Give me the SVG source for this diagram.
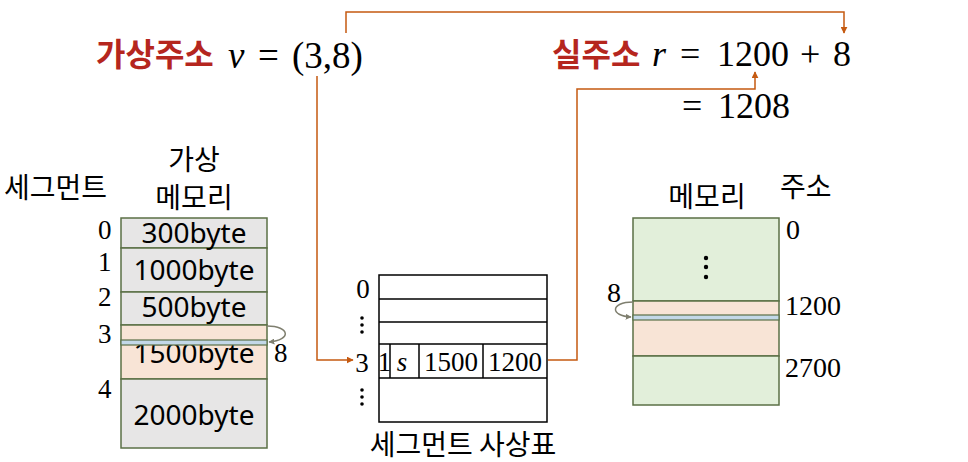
<svg xmlns="http://www.w3.org/2000/svg" width="968" height="462" viewBox="0 0 968 462">
<style>
.kr{font-family:"Noto Sans CJK KR","Noto Sans",sans-serif;fill:#000}
.red{fill:#B5261E;font-weight:bold}
.math{font-family:"Liberation Serif","DejaVu Serif",serif;fill:#000}
.tm{font-family:"Liberation Serif",serif;fill:#000}
.sans{font-family:"Noto Sans","Liberation Sans",sans-serif;fill:#000}
.cell{stroke:#5B7046;stroke-width:1.5}
.gray{fill:#E7E6E6}
.pink{fill:#F8E4D6}
.green{fill:#E2EFDA}
.blue{fill:#C3D8E8;stroke:#5B7046;stroke-width:1.2}
.tbl{fill:#fff;stroke:#000;stroke-width:1.5}
.conn{fill:none;stroke:#C55A11;stroke-width:1.5}
.curve{fill:none;stroke:#7F7F6F;stroke-width:1.5}
</style>
<defs>
<marker id="ah" viewBox="0 0 10 10" refX="9" refY="5" markerWidth="7" markerHeight="7" orient="auto" markerUnits="userSpaceOnUse"><path d="M0,0 L10,5 L0,10 z" fill="#C55A11"/></marker>
<marker id="gh" viewBox="0 0 10 10" refX="9" refY="5" markerWidth="6" markerHeight="6" orient="auto" markerUnits="userSpaceOnUse"><path d="M0,0 L10,5 L0,10 z" fill="#7F7F6F"/></marker>
</defs>

<g id="virtual-address">
<text class="kr red" x="96" y="66" font-size="32">가상주소</text>
<text class="math" x="228" y="68" font-size="37" font-style="italic">v</text>
<text class="math" x="258" y="68" font-size="37">=</text>
<text class="math" x="292" y="68" font-size="37">(3,8)</text>
</g>

<g id="real-address">
<text class="kr red" x="552" y="66" font-size="32">실주소</text>
<text class="math" x="652" y="66" font-size="36" font-style="italic">r</text>
<text class="math" x="680" y="66" font-size="36">=</text>
<text class="math" x="717" y="66" font-size="36">1200</text>
<text class="math" x="800" y="66" font-size="36">+</text>
<text class="math" x="833" y="66" font-size="36">8</text>
<text class="math" x="682" y="118" font-size="36">=</text>
<text class="math" x="718" y="118" font-size="36">1208</text>
</g>

<g id="virtual-memory">
<text class="kr" x="4" y="198" font-size="28">세그먼트</text>
<text class="kr" x="194" y="170" font-size="28" text-anchor="middle">가상</text>
<text class="kr" x="194" y="208" font-size="28" text-anchor="middle">메모리</text>
<rect class="cell gray" x="121" y="218" width="146" height="30"/>
<rect class="cell gray" x="121" y="248" width="146" height="44"/>
<rect class="cell gray" x="121" y="292" width="146" height="33"/>
<rect class="cell pink" x="121" y="325" width="146" height="54"/>
<rect class="cell gray" x="121" y="379" width="146" height="69"/>
<text class="sans" x="194" y="243" font-size="28" text-anchor="middle">300byte</text>
<text class="sans" x="194" y="280" font-size="28" text-anchor="middle">1000byte</text>
<text class="sans" x="194" y="317" font-size="28" text-anchor="middle">500byte</text>
<text class="sans" x="194" y="363" font-size="28" text-anchor="middle">1500byte</text>
<text class="sans" x="194" y="425" font-size="28" text-anchor="middle">2000byte</text>
<rect class="blue" x="121" y="340" width="146" height="5"/>
<text class="tm" x="98" y="239" font-size="27">0</text>
<text class="tm" x="98" y="271" font-size="27">1</text>
<text class="tm" x="98" y="306" font-size="27">2</text>
<text class="tm" x="98" y="343" font-size="27">3</text>
<text class="tm" x="98" y="398" font-size="27">4</text>
<text class="tm" x="274" y="362" font-size="27">8</text>
<path class="curve" d="M267,326 C290,326 292,340 269,342" marker-end="url(#gh)"/>
</g>

<g id="segment-table">
<rect class="tbl" x="379" y="275" width="168" height="147"/>
<line class="tbl" x1="379" y1="299" x2="547" y2="299"/>
<line class="tbl" x1="379" y1="322" x2="547" y2="322"/>
<line class="tbl" x1="379" y1="344" x2="547" y2="344"/>
<line class="tbl" x1="379" y1="378" x2="547" y2="378"/>
<line class="tbl" x1="390" y1="344" x2="390" y2="378"/>
<line class="tbl" x1="419" y1="344" x2="419" y2="378"/>
<line class="tbl" x1="483" y1="344" x2="483" y2="378"/>
<text class="tm" x="384.5" y="371" font-size="27" text-anchor="middle">1</text>
<text class="tm" x="402" y="371" font-size="27" font-style="italic" text-anchor="middle">s</text>
<text class="tm" x="451" y="371" font-size="27" text-anchor="middle">1500</text>
<text class="tm" x="515" y="371" font-size="27" text-anchor="middle">1200</text>
<text class="tm" x="363" y="298" font-size="27" text-anchor="middle">0</text>
<circle cx="362" cy="318" r="1.8"/><circle cx="362" cy="325" r="1.8"/><circle cx="362" cy="332" r="1.8"/>
<text class="tm" x="362" y="372" font-size="27" text-anchor="middle">3</text>
<circle cx="362" cy="390" r="1.8"/><circle cx="362" cy="397" r="1.8"/><circle cx="362" cy="404" r="1.8"/>
<text class="kr" x="463" y="455" font-size="28" text-anchor="middle">세그먼트 사상표</text>
</g>

<g id="physical-memory">
<text class="kr" x="707" y="207" font-size="28" text-anchor="middle">메모리</text>
<text class="kr" x="780" y="197" font-size="28">주소</text>
<rect class="cell green" x="633" y="218" width="146" height="83"/>
<rect class="cell pink" x="633" y="301" width="146" height="55"/>
<rect class="cell green" x="633" y="356" width="146" height="49"/>
<rect class="blue" x="633" y="315" width="146" height="5"/>
<circle cx="706" cy="258" r="2.2"/><circle cx="706" cy="267" r="2.2"/><circle cx="706" cy="277" r="2.2"/>
<text class="tm" x="786" y="239" font-size="28">0</text>
<text class="tm" x="785" y="315" font-size="28">1200</text>
<text class="tm" x="785" y="377" font-size="28">2700</text>
<text class="tm" x="607" y="302" font-size="28">8</text>
<path class="curve" d="M633,302 C610,302 610,316 631,317" marker-end="url(#gh)"/>
</g>

<g id="connectors">
<path class="conn" d="M317,76 V360 H353" marker-end="url(#ah)"/>
<path class="conn" d="M548,360 H577 V89 H755 V72" marker-end="url(#ah)"/>
<path class="conn" d="M346,33 V12 H844 V33" marker-end="url(#ah)"/>
</g>
</svg>
